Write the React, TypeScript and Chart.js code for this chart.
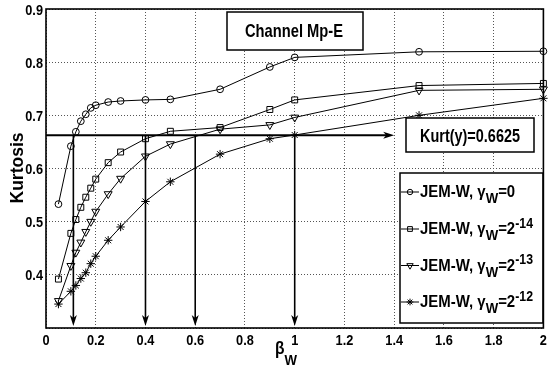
import React, { useEffect, useRef } from 'react';
import { Chart, registerables } from 'chart.js';
import { drawPoint } from 'chart.js/helpers';

Chart.register(...registerables);

// beta_W sample points
const betaW = [0.05, 0.1, 0.12, 0.14, 0.16, 0.18, 0.2, 0.25, 0.3, 0.4, 0.5, 0.7, 0.9, 1.0, 1.5, 2.0];
// Kurtosis for each gamma_W
const kurtGamma0 = [0.533, 0.642, 0.669, 0.689, 0.702, 0.714, 0.719, 0.725, 0.727, 0.729, 0.730, 0.749, 0.791, 0.809, 0.8195, 0.8205];
const kurtGamma2m14 = [0.392, 0.478, 0.504, 0.527, 0.546, 0.563, 0.580, 0.611, 0.631, 0.656, 0.670, 0.677, 0.711, 0.729, 0.756, 0.760];
const kurtGamma2m13 = [0.351, 0.417, 0.442, 0.461, 0.481, 0.500, 0.519, 0.552, 0.581, 0.623, 0.646, 0.674, 0.682, 0.696, 0.747, 0.749];
const kurtGamma2m12 = [0.345, 0.369, 0.380, 0.393, 0.404, 0.421, 0.435, 0.465, 0.490, 0.538, 0.575, 0.627, 0.656, 0.663, 0.700, 0.732];

const seriesEq = ['=0', '=2', '=2', '=2'];
const seriesSup = ['', '-14', '-13', '-12'];
const titleText = 'Channel Mp-E';
const kurtTarget = 0.6625;
const kurtLabel = 'Kurt(y)=0.6625';
const arrowBetas = [0.11, 0.4, 0.6, 1.0];
const hArrowEnd = 1.4;
const xMin = 0, xMax = 2, xStep = 0.2;
const yMin = 0.3, yMax = 0.9, yStep = 0.1;

const FONT = '"Liberation Sans", Arial, Helvetica, sans-serif';

const markerStyles = [
  { pointStyle: 'circle', radius: 3.4, rotation: 0 },
  { pointStyle: 'rect', radius: 4.2, rotation: 0 },
  { pointStyle: 'triangle', radius: 4.6, rotation: 180 },
  { pointStyle: 'star', radius: 4.2, rotation: 0 },
];

function txt(ctx: CanvasRenderingContext2D, text: string, x: number, y: number, font: string, align: CanvasTextAlign, opts: { width?: number; scale?: number } = {}) {
  ctx.save();
  ctx.font = font;
  const w = ctx.measureText(text).width;
  const s = opts.width ? opts.width / w : (opts.scale ?? 1);
  ctx.translate(x, y);
  ctx.scale(s, 1);
  ctx.textAlign = align;
  ctx.textBaseline = 'alphabetic';
  ctx.fillStyle = '#000';
  ctx.fillText(text, 0, 0);
  ctx.restore();
  return w * s;
}

function fmt(v: number) {
  return String(Number(v.toFixed(1)));
}

function box(ctx: CanvasRenderingContext2D, x0: number, y0: number, x1: number, y1: number) {
  ctx.save();
  ctx.fillStyle = '#fff';
  ctx.fillRect(x0, y0, x1 - x0, y1 - y0);
  ctx.strokeStyle = '#000';
  ctx.lineWidth = 1.5;
  ctx.strokeRect(x0, y0, x1 - x0, y1 - y0);
  ctx.restore();
}

const annotPlugin = {
  id: 'annot',
  afterDatasetsDraw(chart: any) {
    const { ctx, scales, chartArea } = chart;
    const xs = scales.x, ys = scales.y;
    ctx.save();
    ctx.strokeStyle = '#000';
    ctx.fillStyle = '#000';
    // horizontal arrow
    const yK = ys.getPixelForValue(kurtTarget);
    const xs0 = xs.getPixelForValue(0);
    const xe = xs.getPixelForValue(hArrowEnd);
    ctx.lineWidth = 2;
    ctx.beginPath();
    ctx.moveTo(xs0, yK);
    ctx.lineTo(xe - 6, yK);
    ctx.stroke();
    ctx.beginPath();
    ctx.moveTo(xe, yK);
    ctx.lineTo(xe - 11, yK - 3.5);
    ctx.lineTo(xe - 8, yK);
    ctx.lineTo(xe - 11, yK + 3.5);
    ctx.closePath();
    ctx.fill();
    // vertical arrows
    const yb = chartArea.bottom - 2;
    ctx.lineWidth = 1.6;
    arrowBetas.forEach((b) => {
      const px = xs.getPixelForValue(b);
      ctx.beginPath();
      ctx.moveTo(px, yK);
      ctx.lineTo(px, yb - 6);
      ctx.stroke();
      ctx.beginPath();
      ctx.moveTo(px, yb);
      ctx.lineTo(px - 3.5, yb - 11);
      ctx.lineTo(px, yb - 8);
      ctx.lineTo(px + 3.5, yb - 11);
      ctx.closePath();
      ctx.fill();
    });
    ctx.restore();

    // title box
    box(ctx, 227, 12, 363, 50);
    txt(ctx, titleText, 294, 37, `bold 19px ${FONT}`, 'center', { width: 98 });
    // Kurt box
    box(ctx, 406, 118, 534, 152);
    txt(ctx, kurtLabel, 470, 142, `bold 19px ${FONT}`, 'center', { width: 100 });
    // legend
    box(ctx, 400, 173, 543, 323);
    const baselines = [197, 234, 270.5, 307];
    baselines.forEach((bl, i) => {
      const ly = bl - 5;
      ctx.save();
      ctx.strokeStyle = '#000';
      ctx.lineWidth = 1;
      ctx.beginPath();
      ctx.moveTo(401, ly);
      ctx.lineTo(419, ly);
      ctx.stroke();
      ctx.fillStyle = 'rgba(0,0,0,0)';
      const m = markerStyles[i];
      drawPoint(ctx, { pointStyle: m.pointStyle, radius: m.radius * 0.8, rotation: m.rotation, borderWidth: 1 } as any, 410, ly);
      ctx.restore();
      let x = 420;
      x += txt(ctx, 'JEM-W, γ', x, bl, `bold 17px ${FONT}`, 'left', { scale: 0.88 });
      x += txt(ctx, 'W', x, bl + 6, `bold 15px ${FONT}`, 'left', { scale: 0.88 });
      x += txt(ctx, seriesEq[i], x, bl, `bold 17px ${FONT}`, 'left', { scale: 0.88 });
      if (seriesSup[i]) txt(ctx, seriesSup[i], x, bl - 6.5, `bold 14px ${FONT}`, 'left', { scale: 0.88 });
    });
  },
  afterDraw(chart: any) {
    const { ctx, scales, chartArea } = chart;
    const xs = scales.x, ys = scales.y;
    // frame
    ctx.save();
    ctx.strokeStyle = '#000';
    ctx.lineWidth = 1.6;
    ctx.strokeRect(chartArea.left, chartArea.top, chartArea.right - chartArea.left, chartArea.bottom - chartArea.top);
    ctx.restore();
    // tick labels
    xs.ticks.forEach((t: any) => {
      const px = xs.getPixelForValue(t.value);
      txt(ctx, fmt(t.value), px, 344.5, `bold 15px ${FONT}`, 'center', { scale: 0.85 });
    });
    ys.ticks.forEach((t: any) => {
      if (t.value < yMin + yStep / 2) return;
      const py = ys.getPixelForValue(t.value);
      txt(ctx, fmt(t.value), 43, py + 5.5, `bold 15px ${FONT}`, 'right', { scale: 0.85 });
    });
    // axis titles
    ctx.save();
    ctx.translate(23, 168);
    ctx.rotate(-Math.PI / 2);
    txt(ctx, 'Kurtosis', 0, 0, `bold 19px ${FONT}`, 'center', { width: 71 });
    ctx.restore();
    let bx = 275;
    bx += txt(ctx, 'β', bx, 353.5, `bold 18px ${FONT}`, 'left', { width: 9.5 });
    txt(ctx, 'W', bx, 365, `bold 15px ${FONT}`, 'left', { width: 12.5 });
  },
};

export default function App() {
  const ref = useRef<HTMLCanvasElement>(null);
  useEffect(() => {
    document.body.style.margin = '0';
    const canvas = ref.current!;
    const mk = (label: string, vals: number[], i: number) => ({
      label,
      data: betaW.map((x, k) => ({ x, y: vals[k] })),
      borderColor: '#000',
      borderWidth: 1,
      pointStyle: markerStyles[i].pointStyle,
      pointRadius: markerStyles[i].radius,
      pointRotation: markerStyles[i].rotation,
      pointBorderWidth: 1,
      pointBorderColor: '#000',
      pointBackgroundColor: 'rgba(0,0,0,0)',
      fill: false,
      tension: 0,
      clip: false as any,
    });
    const chart = new Chart(canvas, {
      type: 'line',
      data: {
        datasets: [
          mk('JEM-W, γW=0', kurtGamma0, 0),
          mk('JEM-W, γW=2^-14', kurtGamma2m14, 1),
          mk('JEM-W, γW=2^-13', kurtGamma2m13, 2),
          mk('JEM-W, γW=2^-12', kurtGamma2m12, 3),
        ],
      },
      options: {
        animation: false,
        responsive: false,
        devicePixelRatio: 1,
        layout: { padding: { top: 9, right: 3, left: 0, bottom: 0 } },
        plugins: { legend: { display: false }, tooltip: { enabled: false } },
        scales: {
          x: {
            type: 'linear',
            min: xMin,
            max: xMax,
            ticks: { stepSize: xStep, display: false },
            grid: { color: '#555', lineWidth: 1, drawTicks: false },
            border: { display: false, dash: [1, 2] },
            afterFit: (s: any) => { s.height = 39; s.paddingLeft = 0; s.paddingRight = 0; },
          },
          y: {
            type: 'linear',
            min: yMin,
            max: yMax,
            ticks: { stepSize: yStep, display: false },
            grid: { color: '#555', lineWidth: 1, drawTicks: false },
            border: { display: false, dash: [1, 2] },
            afterFit: (s: any) => { s.width = 46; s.paddingTop = 0; s.paddingBottom = 0; },
          },
        },
      },
      plugins: [annotPlugin],
    });
    return () => chart.destroy();
  }, []);
  return (
    <div style={{ width: 549, height: 367, background: '#fff' }}>
      <canvas ref={ref} width={549} height={367} />
    </div>
  );
}
